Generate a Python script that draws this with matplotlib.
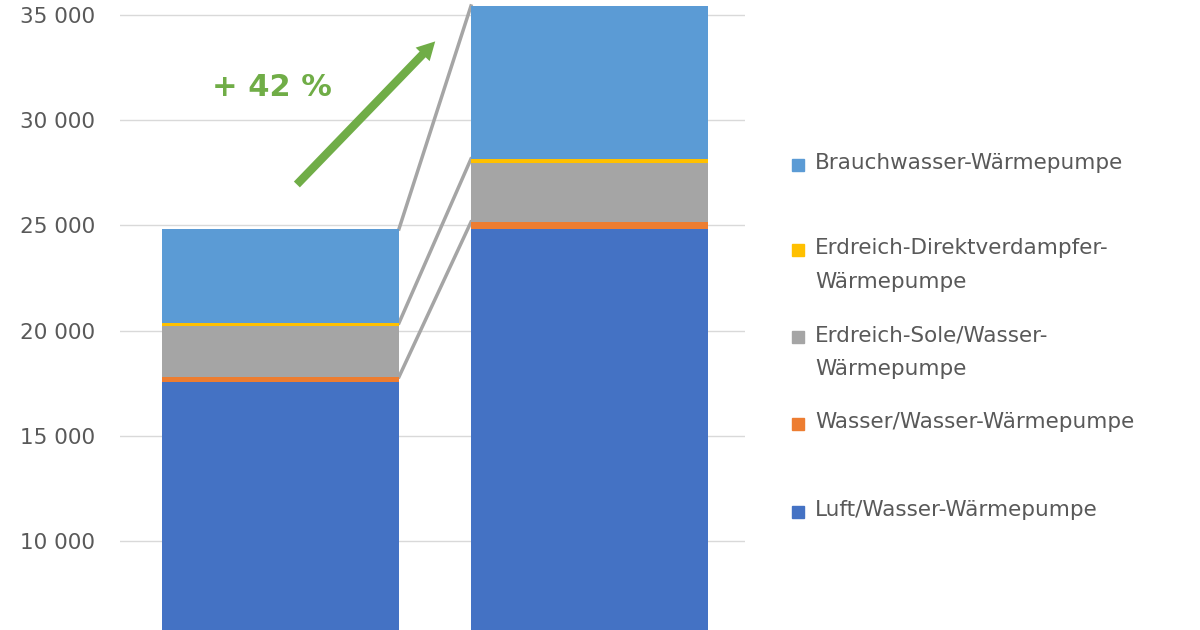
import matplotlib
matplotlib.use("Agg")
import matplotlib.pyplot as plt
from matplotlib.patches import Rectangle
import numpy as np

series = ["Luft/Wasser-Wärmepumpe", "Wasser/Wasser-Wärmepumpe",
          "Erdreich-Sole/Wasser-\nWärmepumpe", "Erdreich-Direktverdampfer-\nWärmepumpe",
          "Brauchwasser-Wärmepumpe"]
colors = ["#4472C4", "#ED7D31", "#A5A5A5", "#FFC000", "#5B9BD5"]
bar1 = [17550, 250, 2420, 140, 4470]
bar2 = [24830, 330, 2800, 200, 7270]
yticks = [10000, 15000, 20000, 25000, 30000, 35000]
ytick_labels = ["10 000", "15 000", "20 000", "25 000", "30 000", "35 000"]

W, H = 1200, 630
fig = plt.figure(figsize=(12, 6.3), dpi=100)
ax = fig.add_axes([120/W, 0, (745-120)/W, 1])
ax.set_ylim(5770, 35713)
ax.set_xlim(-0.519, 1.503)
width = 0.767
for i, vals in enumerate([bar1, bar2]):
    b = 0
    for v, c in zip(vals, colors):
        ax.bar(i, v, width, bottom=b, color=c, zorder=3)
        b += v
c1 = np.cumsum(bar1); c2 = np.cumsum(bar2)
for k in [1, 3, 4]:
    ax.plot([width/2, 1-width/2], [c1[k], c2[k]], color="#A5A5A5", lw=2.5, zorder=2)
ax.set_yticks(yticks)
ax.set_yticklabels(ytick_labels)
ax.tick_params(axis="y", length=0, labelsize=15.5, labelcolor="#595959", pad=18)
ax.tick_params(axis="x", bottom=False, labelbottom=False)
ax.grid(axis="y", color="#D9D9D9", lw=1, zorder=0)
for s in ax.spines.values():
    s.set_visible(False)

ax.annotate("", xy=(0.507, 33840), xytext=(0.047, 26850),
            arrowprops=dict(arrowstyle="simple,head_width=1.4,head_length=1.3,tail_width=0.6",
                            color="#70AD47", lw=0), zorder=5)
fig.text(272/W, 1-87/H, "+ 42 %", color="#70AD47", fontsize=22, fontweight="bold",
         ha="center", va="center")

leg = [(4, 165), (3, 250), (2, 337), (1, 424), (0, 512)]
for idx, y in leg:
    fig.patches.append(Rectangle((792/W, 1-(y+6)/H), 12/W, 12/H, color=colors[idx],
                                 transform=fig.transFigure, figure=fig))
    fig.text(815/W, 1-(y-12)/H, series[idx], fontsize=15.5, color="#595959",
             va="top", ha="left", linespacing=1.85)
fig.savefig("out.png", dpi=100, facecolor="white")
